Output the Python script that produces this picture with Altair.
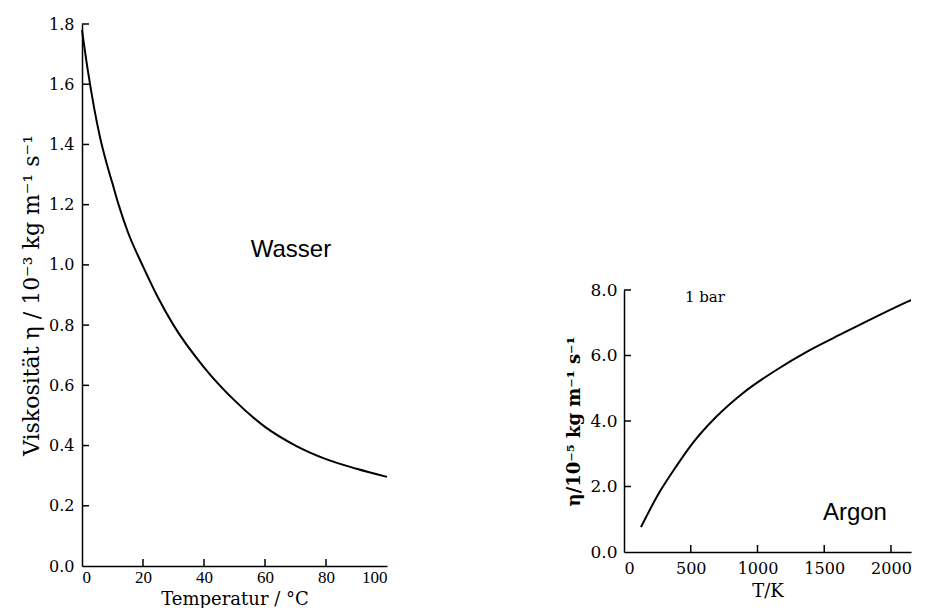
import altair as alt
import pandas as pd

# ---------------- data ----------------
water_T = [0, 2, 4, 6, 8, 10, 12, 15, 20, 25, 30, 40, 50, 60, 70, 80, 90, 100]
water_eta = [1.78, 1.64, 1.52, 1.42, 1.34, 1.27, 1.20, 1.11, 0.995, 0.89, 0.80, 0.66, 0.55,
             0.462, 0.40, 0.355, 0.323, 0.296]

argon_T = [127, 262, 389, 516, 689, 890, 1138, 1385, 1640, 1886, 2133, 2223]
argon_eta = [0.76, 1.80, 2.60, 3.33, 4.12, 4.85, 5.55, 6.15, 6.68, 7.18, 7.66, 7.82]

water_ticks_x = [0, 20, 40, 60, 80, 100]
water_ticks_y = [0.0, 0.2, 0.4, 0.6, 0.8, 1.0, 1.2, 1.4, 1.6, 1.8]
argon_ticks_x = [0, 500, 1000, 1500, 2000]
argon_ticks_y = [0.0, 2.0, 4.0, 6.0, 8.0]

water_label = ["Wasser"]
water_label_T = [68.5]
water_label_eta = [1.05]

argon_label = ["Argon"]
argon_label_T = [1730]
argon_label_eta = [1.19]

bar_label = ["1 bar"]
bar_label_T = [606]
bar_label_eta = [7.80]

# ---------------- tables ----------------
water_df = pd.DataFrame({"T": water_T, "eta": water_eta})
argon_df = pd.DataFrame({"T": argon_T, "eta": argon_eta})
water_lab_df = pd.DataFrame({"T": water_label_T, "eta": water_label_eta, "txt": water_label})
argon_lab_df = pd.DataFrame({"T": argon_label_T, "eta": argon_label_eta, "txt": argon_label})
bar_lab_df = pd.DataFrame({"T": bar_label_T, "eta": bar_label_eta, "txt": bar_label})
wtx_df = pd.DataFrame({"v": [v for v in water_ticks_x if 0 < v < 100]})
wty_df = pd.DataFrame({"v": [v for v in water_ticks_y if v > 0]})
atx_df = pd.DataFrame({"v": [v for v in argon_ticks_x if v > 0]})
aty_df = pd.DataFrame({"v": [v for v in argon_ticks_y if v > 0]})

W_L, H_L = 305, 542
W_R, H_R = 287, 262
X_MAX_R = 2150
TICK = 7

common = dict(domainColor="black", domainWidth=1.5, labelColor="black", titleColor="black",
              grid=False, ticks=False)

# ---------------- left panel: water ----------------
lx = alt.Scale(domain=[0, 100], nice=False, zero=False)
ly = alt.Scale(domain=[0, 1.8], nice=False)

left_line = alt.Chart(water_df).mark_line(color="black", strokeWidth=2, interpolate="monotone").encode(
    x=alt.X("T:Q", scale=lx, axis=alt.Axis(values=water_ticks_x, format="d",
            labelFont="Liberation Serif", labelFontSize=17, labelPadding=3,
            title="Temperatur / °C", titleFont="DejaVu Serif", titleFontSize=18,
            titleFontWeight="normal", titlePadding=5, **common)),
    y=alt.Y("eta:Q", scale=ly, axis=alt.Axis(values=water_ticks_y, format=".1f",
            labelFont="DejaVu Serif", labelFontSize=16, labelPadding=8,
            title="Viskosität η / 10⁻³ kg m⁻¹ s⁻¹", titleFont="DejaVu Serif", titleFontSize=22,
            titleFontWeight="normal", titlePadding=5, **common)),
)

left_text = alt.Chart(water_lab_df).mark_text(font="Liberation Sans", fontSize=24, color="black").encode(
    x=alt.X("T:Q", scale=lx, axis=None),
    y=alt.Y("eta:Q", scale=ly, axis=None),
    text="txt:N",
)

left_yticks = alt.Chart(wty_df).mark_rule(color="black", strokeWidth=1.5).encode(
    y=alt.Y("v:Q", scale=ly, axis=None), x=alt.value(0), x2=alt.value(TICK))
left_xticks = alt.Chart(wtx_df).mark_rule(color="black", strokeWidth=1.5).encode(
    x=alt.X("v:Q", scale=lx, axis=None), y=alt.value(H_L), y2=alt.value(H_L - TICK))

left = alt.layer(left_line, left_text, left_yticks, left_xticks).resolve_axis(
    x="independent", y="independent").properties(width=W_L, height=H_L)

# ---------------- right panel: argon ----------------
rx = alt.Scale(domain=[0, X_MAX_R], nice=False, zero=False)
ry = alt.Scale(domain=[0, 8], nice=False)

right_line = alt.Chart(argon_df).mark_line(color="black", strokeWidth=2, interpolate="monotone", clip=True).encode(
    x=alt.X("T:Q", scale=rx, axis=alt.Axis(values=argon_ticks_x, format="d",
            labelFont="DejaVu Serif", labelFontSize=16, labelPadding=8,
            title="T/K", titleFont="DejaVu Serif", titleFontSize=18,
            titleFontWeight="normal", titlePadding=6, **common)),
    y=alt.Y("eta:Q", scale=ry, axis=alt.Axis(values=argon_ticks_y, format=".1f",
            labelFont="DejaVu Serif", labelFontSize=17, labelPadding=7,
            title="η/10⁻⁵ kg m⁻¹ s⁻¹", titleFont="DejaVu Serif", titleFontSize=18,
            titleFontWeight="bold", titlePadding=6, **common)),
)

right_text = alt.Chart(argon_lab_df).mark_text(font="Liberation Sans", fontSize=24, color="black").encode(
    x=alt.X("T:Q", scale=rx, axis=None),
    y=alt.Y("eta:Q", scale=ry, axis=None),
    text="txt:N",
)

bar_text = alt.Chart(bar_lab_df).mark_text(font="DejaVu Serif", fontSize=15, color="black").encode(
    x=alt.X("T:Q", scale=rx, axis=None),
    y=alt.Y("eta:Q", scale=ry, axis=None),
    text="txt:N",
)

right_yticks = alt.Chart(aty_df).mark_rule(color="black", strokeWidth=1.5).encode(
    y=alt.Y("v:Q", scale=ry, axis=None), x=alt.value(0), x2=alt.value(TICK))
right_xticks = alt.Chart(atx_df).mark_rule(color="black", strokeWidth=1.5).encode(
    x=alt.X("v:Q", scale=rx, axis=None), y=alt.value(H_R), y2=alt.value(H_R - TICK))

right_plot = alt.layer(right_line, right_text, bar_text, right_yticks, right_xticks).resolve_axis(
    x="independent", y="independent").properties(width=W_R, height=H_R)

spacer = alt.Chart(pd.DataFrame({"a": [0]})).mark_point(opacity=0).encode(
    x=alt.value(0), y=alt.value(0)).properties(width=W_R, height=257)

right = alt.vconcat(spacer, right_plot, spacing=0)

chart = alt.hconcat(left, right, spacing=174).configure_view(stroke=None).properties(
    padding={"left": 12, "top": 8, "right": 0, "bottom": 0})

chart.save("out.html", embed_options={"renderer": "svg", "actions": False})
